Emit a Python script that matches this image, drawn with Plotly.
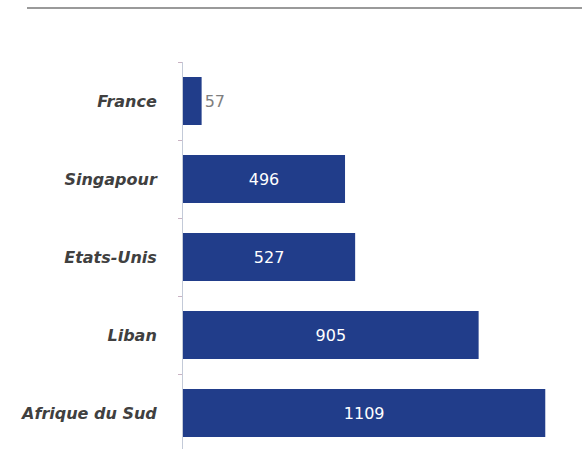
import plotly.graph_objects as go

countries = ["France", "Singapour", "Etats-Unis", "Liban", "Afrique du Sud"]
values = [57, 496, 527, 905, 1109]
label_pos = ["outside", "inside", "inside", "inside", "inside"]
label_colors = ["#7f7f7f", "#ffffff", "#ffffff", "#ffffff", "#ffffff"]

fig = go.Figure(go.Bar(
    y=countries, x=values, orientation="h",
    marker=dict(color="#213d8a", line=dict(width=0)),
    text=[str(v) for v in values],
    textposition=label_pos,
    insidetextanchor="middle",
    textfont=dict(family="DejaVu Sans", size=16, color=label_colors),
    cliponaxis=False,
))

W, H = 582, 449
L, R, T, B = 183, 7, 62, 0
pw, ph = W - L - R, H - T - B

fig.update_layout(
    width=W, height=H,
    margin=dict(l=L, r=R, t=T, b=B, pad=0),
    paper_bgcolor="white", plot_bgcolor="white",
    showlegend=False,
    bargap=0.385,
    xaxis=dict(range=[0, 1200], visible=False),
    yaxis=dict(
        type="category", range=[4.46, -0.5],
        showline=True, linecolor="#c3cad8", linewidth=1,
        ticks="outside", tickson="boundaries", ticklen=4, tickcolor="#c9b3c3",
        showgrid=False, zeroline=False,
        tickfont=dict(family="DejaVu Sans", size=16, color="#404040", weight="bold", style="italic"),
        ticklabelstandoff=22,
    ),
    shapes=[dict(
        type="line", xref="x domain", yref="y domain",
        x0=(27 - L) / pw, x1=(582 - L) / pw,
        y0=(H - 8 - B) / ph, y1=(H - 8 - B) / ph,
        line=dict(color="#9a9a9a", width=2),
    )],
)

fig.write_html("out.html", config={"displayModeBar": False},
               post_script="document.body.style.margin='0';document.body.style.padding='0';")
